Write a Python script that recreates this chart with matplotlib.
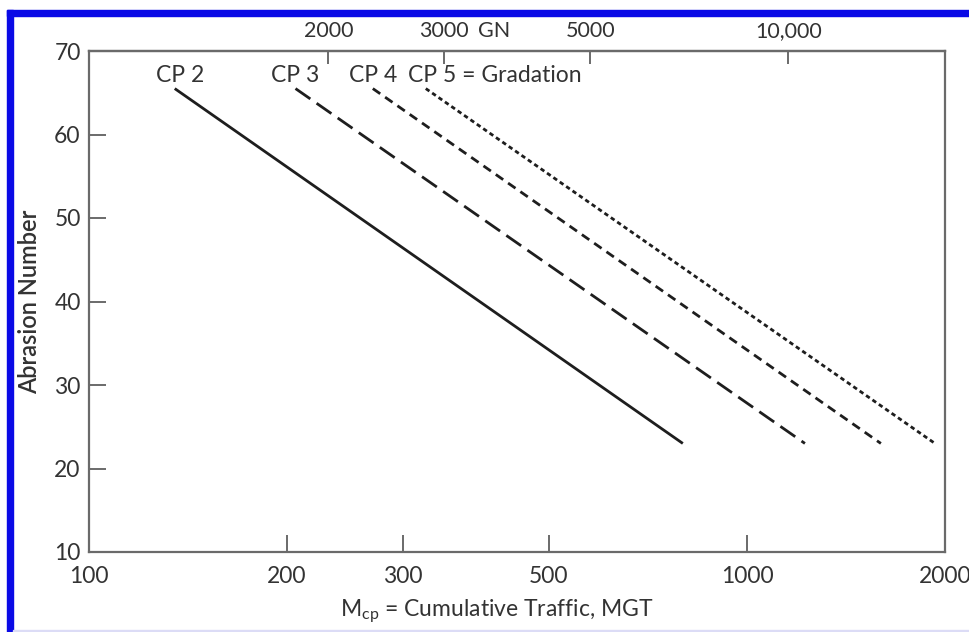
import matplotlib
matplotlib.use("Agg")
import matplotlib.pyplot as plt
from matplotlib.patches import Rectangle

plt.rcParams["font.family"] = ["Lato", "DejaVu Sans"]
plt.rcParams["mathtext.fontset"] = "custom"
plt.rcParams["mathtext.rm"] = "Lato"
plt.rcParams["mathtext.it"] = "Lato:italic"
plt.rcParams["lines.scale_dashes"] = False

TXT = "#333333"
AXC = "#6a6a6a"
FS = 16.5

# ---- data ----
curves = ["CP 2", "CP 3", "CP 4", "CP 5"]
mgt_start = [135, 206, 270, 325]      # MGT at abrasion number 65.5
mgt_end = [799, 1225, 1598, 1931]     # MGT at abrasion number 23
abr_start = 65.5
abr_end = 23.0

x_ticks = [100, 200, 300, 500, 1000, 2000]
x_labels = ["100", "200", "300", "500", "1000", "2000"]
y_ticks = [10, 20, 30, 40, 50, 60, 70]
gn_ticks = [2000, 3000, 5000, 10000]
gn_labels = ["2000", "3000", "5000", "10,000"]
GN_PER_MGT = 8.65

styles = [
    dict(linestyle="-"),
    dict(dashes=(13, 5.5)),
    dict(dashes=(6.5, 4.3)),
    dict(dashes=(3.2, 2.4)),
]

fig = plt.figure(figsize=(9.69, 6.32), dpi=100)
ax = fig.add_axes([89 / 969, 1 - 552 / 632, 856 / 969, 501 / 632])

for i, name in enumerate(curves):
    ax.plot([mgt_start[i], mgt_end[i]], [abr_start, abr_end],
            color="#1e1e1e", linewidth=2.0, solid_capstyle="butt", **styles[i])

# curve labels above the start of each line
for i, name in enumerate(curves):
    if i == len(curves) - 1:
        ax.annotate(name + " = Gradation", (mgt_start[i], abr_start),
                    xytext=(-13, 9.5), textcoords="offset points",
                    ha="left", va="center", fontsize=FS, color=TXT)
    else:
        ax.annotate(name, (mgt_start[i], abr_start),
                    xytext=(4 if i == 0 else 0, 9.5), textcoords="offset points",
                    ha="center", va="center", fontsize=FS, color=TXT)

ax.set_xscale("log")
ax.set_xlim(100, 2000)
ax.set_ylim(10, 70)
ax.set_xticks(x_ticks)
ax.set_xticklabels(x_labels)
ax.minorticks_off()
ax.set_yticks(y_ticks)

ax.tick_params(axis="x", which="both", direction="in", length=12, width=1.4,
               color=AXC, labelsize=FS, labelcolor=TXT, pad=10, top=False)
ax.tick_params(axis="y", direction="in", length=12, width=1.4, color=AXC,
               labelsize=FS, labelcolor=TXT, pad=6, right=False)
for s in ax.spines.values():
    s.set_color(AXC)
    s.set_linewidth(1.6)

ax.set_xlabel(r"$\mathregular{M_{cp}}$ = Cumulative Traffic, MGT",
              fontsize=FS, color=TXT, va="center")
ax.xaxis.set_label_coords((497 - 89) / 856, -(611 - 552) / 501)
ax.set_ylabel("Abrasion Number", fontsize=17, color=TXT,
              fontweight="semibold", va="center")
ax.yaxis.set_label_coords((30 - 89) / 856, 0.5)

# top GN scale
TOP_PAD = 7
sec = ax.secondary_xaxis("top", functions=(lambda m: m * GN_PER_MGT,
                                            lambda g: g / GN_PER_MGT))
sec.set_xticks(gn_ticks)
sec.set_xticklabels(gn_labels)
sec.minorticks_off()
sec.tick_params(axis="x", which="both", direction="in", length=9, width=1.4,
                color=AXC, labelsize=15.5, labelcolor=TXT, pad=TOP_PAD)
sec.tick_params(axis="x", which="minor", length=0)
sec.spines["top"].set_color(AXC)
sec.spines["top"].set_linewidth(1.6)
ax.annotate("GN", ((494 - 89) / 856, 1), xycoords="axes fraction",
            xytext=(0, TOP_PAD), textcoords="offset points",
            ha="center", va="bottom", fontsize=15.5, color=TXT)

# blue frame of the source screenshot
fig.patches.append(Rectangle((7 / 969, 1 - 16 / 632), 1, 6 / 632,
                             transform=fig.transFigure, color="#0a0ae6", zorder=5))
fig.patches.append(Rectangle((7 / 969, 0), 6 / 969, 1 - 10 / 632,
                             transform=fig.transFigure, color="#0a0ae6", zorder=5))
fig.patches.append(Rectangle((13 / 969, 0), 1, 2 / 632,
                             transform=fig.transFigure, color="#dcdcf6", zorder=5))

fig.savefig("out.png", dpi=100)
